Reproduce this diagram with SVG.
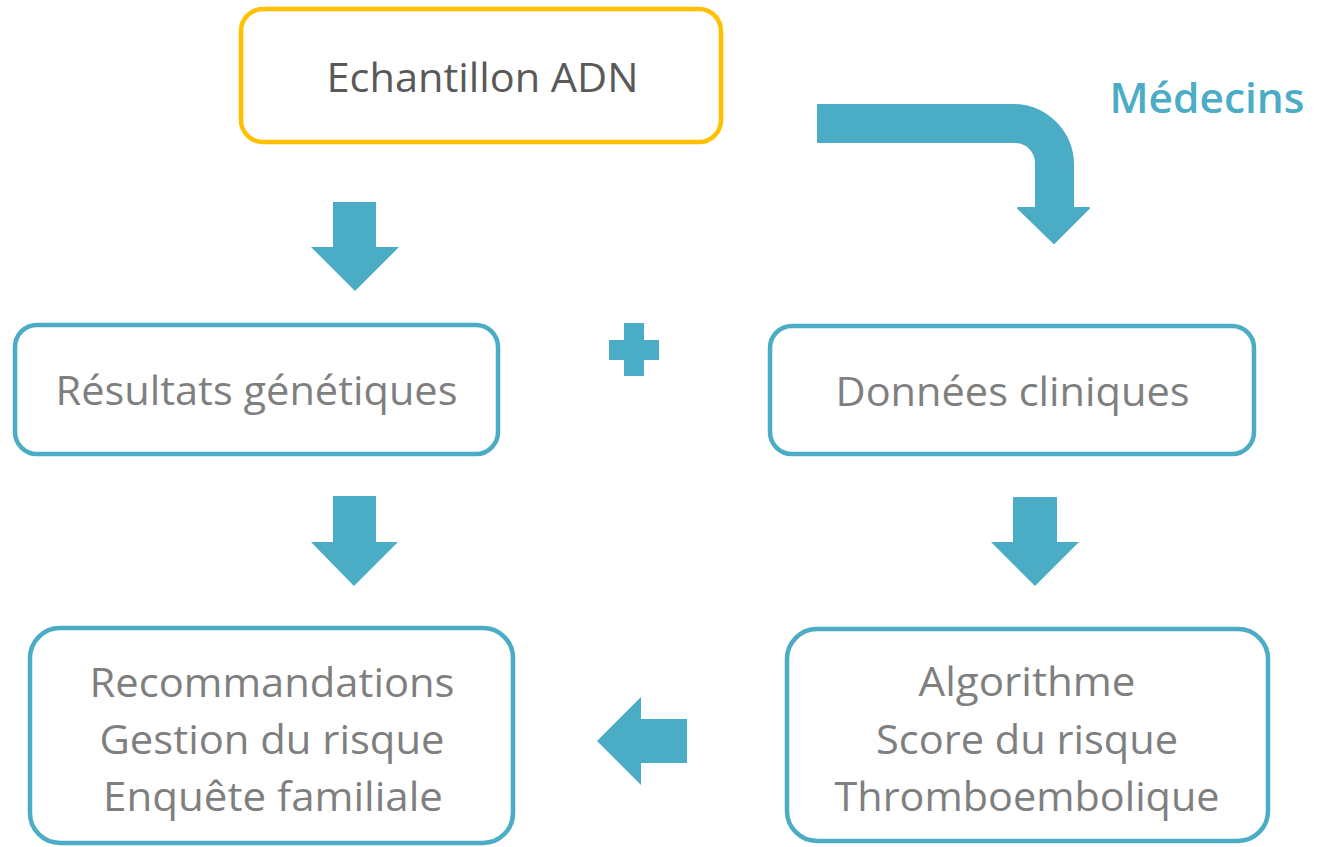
<svg xmlns="http://www.w3.org/2000/svg" width="1324" height="847" viewBox="0 0 1324 847">
<style>
.box{fill:#fff;stroke:#4BACC6;stroke-width:4.5}
.ybox{fill:#fff;stroke:#FFC000;stroke-width:4.5}
.t{font-family:"Open Sans","Noto Sans",sans-serif;font-size:41px;fill:#7F7F7F;text-anchor:middle}
.dark{fill:#595959}
.arr{fill:#4BACC6}
</style>
<rect width="1324" height="847" fill="#fff"/>
<g id="echantillon">
<rect class="ybox" x="241" y="9" width="480" height="133" rx="22"/>
<text class="t dark" x="482.5" y="92" textLength="312" lengthAdjust="spacingAndGlyphs">Echantillon ADN</text>
</g>
<g id="medecins">
<text x="1207" y="113" text-anchor="middle" font-family="'Open Sans','Noto Sans',sans-serif" font-size="42" font-weight="600" fill="#4BACC6" textLength="195" lengthAdjust="spacingAndGlyphs">Médecins</text>
</g>
<g id="resultats">
<rect class="box" x="15" y="325" width="483" height="129" rx="22"/>
<text class="t" x="256.5" y="405" textLength="402" lengthAdjust="spacingAndGlyphs">Résultats génétiques</text>
</g>
<g id="plus">
<rect class="arr" x="624" y="323" width="20" height="53"/>
<rect class="arr" x="609" y="340" width="50" height="20"/>
</g>
<g id="donnees">
<rect class="box" x="770" y="326" width="484" height="128" rx="22"/>
<text class="t" x="1012.5" y="406" textLength="354" lengthAdjust="spacingAndGlyphs">Données cliniques</text>
</g>
<g id="recommandations">
<rect class="box" x="30" y="628" width="483" height="215" rx="30"/>
<text class="t" x="272" y="697" textLength="365" lengthAdjust="spacingAndGlyphs">Recommandations</text>
<text class="t" x="272" y="754" textLength="345" lengthAdjust="spacingAndGlyphs">Gestion du risque</text>
<text class="t" x="273" y="811" textLength="340" lengthAdjust="spacingAndGlyphs">Enquête familiale</text>
</g>
<g id="algorithme">
<rect class="box" x="787" y="629" width="481" height="212" rx="30"/>
<text class="t" x="1027" y="696" textLength="217" lengthAdjust="spacingAndGlyphs">Algorithme</text>
<text class="t" x="1027" y="754" textLength="302" lengthAdjust="spacingAndGlyphs">Score du risque</text>
<text class="t" x="1027" y="811" textLength="385" lengthAdjust="spacingAndGlyphs">Thromboembolique</text>
</g>
<g id="connectors">
<polygon class="arr" points="333,202 376,202 376,247 399,247 355,291 311,247 333,247"/>
<polygon class="arr" points="333,496 376,496 376,542 398,542 354,586 311,542 333,542"/>
<polygon class="arr" points="1013,497 1057,497 1057,542 1079,542 1035,586 991,542 1013,542"/>
<polygon class="arr" points="687,719 687,763 641,763 641,785 597,741 641,697 641,719"/>
<path class="arr" stroke="#4BACC6" stroke-width="2" stroke-linejoin="round" d="M818,105 H1013 A60,60 0 0 1 1073,165 V208 H1089 L1054,243 L1018,208 H1036 V164 A21,21 0 0 0 1015,142 H818 Z"/>
</g>
</svg>
